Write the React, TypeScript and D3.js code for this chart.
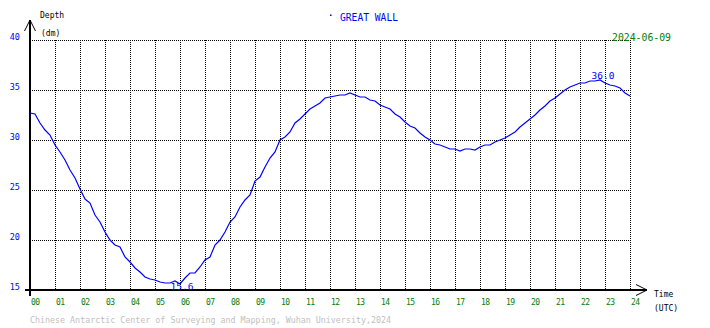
import React from "react";
import * as d3 from "d3";

// ---- data ----
const title = "GREAT WALL";
const dateLabel = "2024-06-09";
const footer = "Chinese Antarctic Center of Surveying and Mapping, Wuhan University,2024";
const hourTicks = ["00","01","02","03","04","05","06","07","08","09","10","11","12","13","14","15","16","17","18","19","20","21","22","23","24"];
const depthTicks = [15, 20, 25, 30, 35, 40];
const sampleStepHours = 0.2;
// tide depth (dm), one reading per 0.2 h from 00:00 to 24:00
const depth = [
  32.7, 32.6, 31.7, 31.0, 30.5, 29.5, 28.8, 28.0, 27.0, 26.2,
  25.1, 24.1, 23.7, 22.5, 21.8, 20.8, 20.0, 19.5, 19.3, 18.3,
  17.8, 17.2, 16.8, 16.3, 16.1, 16.0, 15.8, 15.7, 15.7, 15.9,
  15.6, 16.2, 16.7, 16.7, 17.3, 18.0, 18.3, 19.5, 20.0, 20.8,
  21.8, 22.3, 23.3, 24.0, 24.5, 25.9, 26.3, 27.3, 28.2, 28.8,
  30.0, 30.3, 30.8, 31.7, 32.1, 32.6, 33.1, 33.4, 33.7, 34.2,
  34.3, 34.4, 34.5, 34.5, 34.7, 34.5, 34.3, 34.3, 34.0, 33.9,
  33.5, 33.3, 33.1, 32.6, 32.3, 31.8, 31.4, 31.2, 30.7, 30.3,
  30.0, 29.6, 29.5, 29.3, 29.1, 29.1, 28.9, 29.1, 29.1, 29.0,
  29.3, 29.5, 29.5, 29.8, 30.0, 30.2, 30.5, 30.8, 31.3, 31.7,
  32.1, 32.5, 33.0, 33.4, 33.9, 34.2, 34.6, 35.0, 35.3, 35.5,
  35.7, 35.7, 35.9, 35.9, 36.0, 35.7, 35.5, 35.4, 35.2, 34.7,
  34.4,
];

const W = 710;
const H = 328;
const mono = "'DejaVu Sans Mono', monospace";

export default function App() {
  const x = d3.scaleLinear().domain([0, 24]).range([30, 630]);
  const y = d3.scaleLinear().domain([15, 40]).range([290, 40]);
  const pts = depth.map((v, i) => [i * sampleStepHours, v] as [number, number]);
  const line = d3
    .line<[number, number]>()
    .x((d) => x(d[0]))
    .y((d) => y(d[1]))
    .curve(d3.curveLinear);

  const maxI = d3.maxIndex(depth);
  const minI = d3.minIndex(depth);
  const maxP = pts[maxI];
  const minP = pts[minI];

  const hours = d3.range(0, 25);

  return (
    <svg
      width={W}
      height={H}
      style={{ position: "absolute", left: 0, top: 0, display: "block", background: "#fff" }}
    >
      <rect x={0} y={0} width={W} height={H} fill="#fff" />
      {/* grid */}
      <g stroke="#000" strokeWidth={1} strokeDasharray="1,1" shapeRendering="crispEdges">
        {depthTicks
          .filter((t) => t > 15)
          .map((t) => (
            <line key={"h" + t} x1={x(0)} x2={x(24)} y1={y(t) + 0.5} y2={y(t) + 0.5} />
          ))}
        {hours
          .filter((h) => h > 0)
          .map((h) => (
            <line key={"v" + h} x1={x(h) + 0.5} x2={x(h) + 0.5} y1={y(40)} y2={y(15)} />
          ))}
      </g>
      {/* axes */}
      <g stroke="#000" strokeWidth={2} fill="none">
        <line x1={x(0)} x2={x(0)} y1={20} y2={y(15) + 6} />
        <line x1={x(0) - 5} x2={647} y1={y(15)} y2={y(15)} />
      </g>
      <g stroke="#000" strokeWidth={1} fill="none">
        <polyline points={`${x(0) - 5.5},31 ${x(0)},20 ${x(0) + 5.5},31`} />
        <polyline points={`636,284.5 647,${y(15)} 636,295.5`} />
      </g>
      {/* curve */}
      <path d={line(pts) || ""} fill="none" stroke="#0000ff" strokeWidth={1.2} />
      {/* extreme labels */}
      <text x={x(maxP[0]) + 3} y={y(maxP[1]) - 1} fill="#0000ff" fontFamily={mono} fontSize={9.5} textAnchor="middle">
        {maxP[1].toFixed(1)}
      </text>
      <text x={x(minP[0]) + 2} y={y(minP[1]) + 6} fill="#0000ff" fontFamily={mono} fontSize={9.5} textAnchor="middle">
        {minP[1].toFixed(1)}
      </text>
      {/* y tick labels */}
      {depthTicks.map((t) => (
        <text key={"yl" + t} x={20} y={y(t)} fill="#0000ff" fontFamily={mono} fontSize={8.5} textAnchor="end">
          {t}
        </text>
      ))}
      {/* x tick labels */}
      {hourTicks.map((lbl, i) => (
        <text key={"xl" + lbl} x={x(hours[i]) + 1} y={305} fill="#008000" fontFamily={mono} fontSize={8} textLength={9}>
          {lbl}
        </text>
      ))}
      {/* axis titles */}
      <text x={40} y={18} fontFamily={mono} fontSize={8} fill="#000">Depth</text>
      <text x={41} y={36} fontFamily={mono} fontSize={8} fill="#000">(dm)</text>
      <text x={654} y={297} fontFamily={mono} fontSize={8} fill="#000">Time</text>
      <text x={654} y={311} fontFamily={mono} fontSize={8} fill="#000">(UTC)</text>
      {/* title */}
      <rect x={330} y={14.5} width={1.5} height={1.5} fill="#0000ff" />
      <text x={340} y={21} fontFamily={mono} fontSize={10} fill="#0000ff" textLength={58} lengthAdjust="spacingAndGlyphs">
        {title}
      </text>
      <text x={612} y={41} fontFamily={mono} fontSize={11} fill="#008000" textLength={59} lengthAdjust="spacingAndGlyphs">
        {dateLabel}
      </text>
      <text x={30} y={323} fontFamily={mono} fontSize={8.3} fill="#c0c0c0" textLength={361} lengthAdjust="spacingAndGlyphs">
        {footer}
      </text>
    </svg>
  );
}
